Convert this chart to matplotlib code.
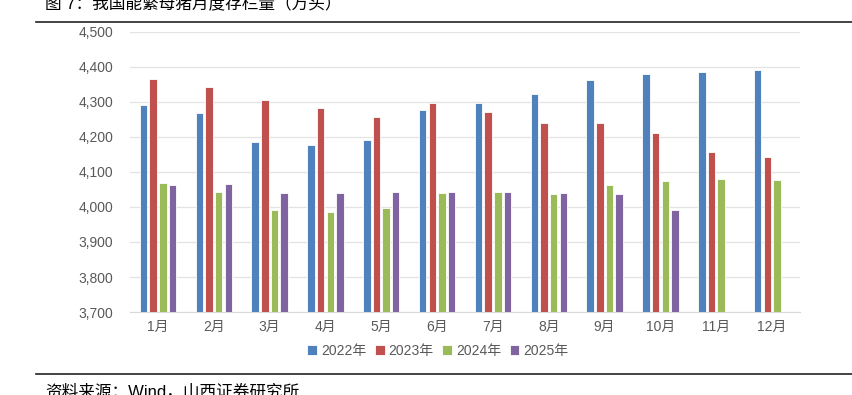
import numpy as np
from matplotlib import pyplot as plt

plt.rcParams['font.family'] = ['Liberation Sans', 'Noto Sans CJK SC', 'DejaVu Sans']

# 月份
months = ['1月', '2月', '3月', '4月', '5月', '6月', '7月', '8月', '9月', '10月', '11月', '12月']

# 能繁母猪存栏量（万头）
y2022 = [4290, 4269, 4185, 4177, 4192, 4277, 4297, 4324, 4362, 4379, 4387, 4390]
y2023 = [4366, 4343, 4305, 4284, 4258, 4296, 4271, 4241, 4241, 4210, 4158, 4142]
y2024 = [4068, 4043, 3992, 3986, 3996, 4039, 4042, 4037, 4062, 4073, 4080, 4078]
y2025 = [4062, 4066, 4039, 4039, 4043, 4043, 4043, 4039, 4036, 3991]

series = [('2022年', y2022, '#4F81BD'),
          ('2023年', y2023, '#C0504D'),
          ('2024年', y2024, '#9BBB59'),
          ('2025年', y2025, '#8064A2')]

fig = plt.figure(figsize=(8.52, 3.95), dpi=100)
ax = fig.add_axes([0.1526, 0.2101, 0.7864, 0.709])

x = np.arange(len(months))
step = 0.173
width = 0.134
for i, (name, vals, color) in enumerate(series):
    xs = x[:len(vals)] + (i - 1.5) * step
    ax.bar(xs, np.array(vals) - 3700, width=width, bottom=3700, color=color,
           edgecolor='white', linewidth=0.6, label=name, zorder=3)

ax.set_ylim(3700, 4500)
ax.set_xlim(-0.5, len(months) - 0.5)
ax.set_yticks(np.arange(3700, 4501, 100))
ax.set_yticklabels(['{:,}'.format(v) for v in range(3700, 4501, 100)])
ax.set_xticks(x)
ax.set_xticklabels(months)
ax.tick_params(axis='both', length=0, colors='#595959', labelsize=10)
ax.tick_params(axis='y', pad=12)
ax.tick_params(axis='x', pad=6)
ax.grid(axis='y', color='#E3E3E3', linewidth=0.9, zorder=0)
for s in ['top', 'left', 'right']:
    ax.spines[s].set_visible(False)
ax.spines['bottom'].set_color('#D9D9D9')

leg = ax.legend(loc='center', bbox_to_anchor=(0.514, 0.111), bbox_transform=fig.transFigure,
                ncol=4, frameon=False, handlelength=0.7, handleheight=0.7,
                handletextpad=0.3, columnspacing=0.6, fontsize=10)
for t in leg.get_texts():
    t.set_color('#595959')

# 标题与来源（原图中上下边缘被截断）
fig.text(45 / 852, 1 - 8 / 395, '图 7：我国能繁母猪月度存栏量（万头）', fontsize=12, va='baseline', ha='left')
fig.add_artist(plt.Line2D([36 / 852, 1], [1 - 22 / 395, 1 - 22 / 395], color='#222222', linewidth=1.2))
fig.add_artist(plt.Line2D([36 / 852, 1], [1 - 374 / 395, 1 - 374 / 395], color='#222222', linewidth=1.2))
fig.text(45 / 852, 1 - 384 / 395, '资料来源：Wind，山西证券研究所', fontsize=12, va='top', ha='left')

plt.savefig('out.png', dpi=100)
